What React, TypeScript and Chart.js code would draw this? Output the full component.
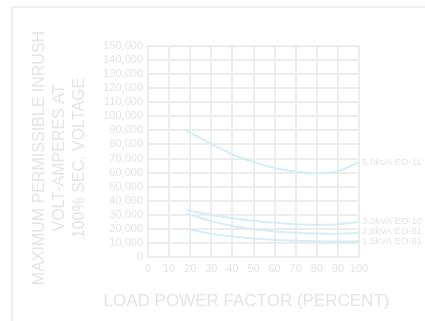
import React, { useEffect, useRef } from "react";
import { Chart, registerables } from "chart.js";

Chart.register(...registerables);

const xValues = [18, 30, 40, 50, 60, 70, 80, 90, 100];
const seriesNames = ["5.0kVA EO-11", "3.0kVA EO-10", "2.0kVA EO-91", "1.5kVA EO-81"];
const kva50 = [90000, 80500, 73000, 67500, 63300, 60700, 59600, 61000, 67500];
const kva30 = [33500, 29800, 27500, 25800, 24300, 23300, 22900, 23300, 25000];
const kva20 = [31000, 25500, 22000, 19700, 18200, 17200, 16700, 16600, 17000];
const kva15 = [20000, 16500, 14600, 13200, 12200, 11600, 11200, 11000, 11000];
const xTicks = [0, 10, 20, 30, 40, 50, 60, 70, 80, 90, 100];
const yTitleLines = ["MAXIMUM PERMISSIBLE INRUSH", "VOLT-AMPERES AT", "100% SEC. VOLTAGE"];
const xTitle = "LOAD POWER FACTOR (PERCENT)";

const TEXT = "#e4e4e4";
const GRID = "#ececec";
const CURVE = "#d6edf5";
const FONT = "'Liberation Sans', Arial, sans-serif";

export default function App() {
  const ref = useRef<HTMLCanvasElement | null>(null);

  useEffect(() => {
    const canvas = ref.current;
    if (!canvas) return;
    const allSeries = [kva50, kva30, kva20, kva15];

    const decor = {
      id: "decor",
      beforeDraw(chart: any) {
        const ctx = chart.ctx;
        ctx.save();
        ctx.fillStyle = "#ffffff";
        ctx.fillRect(0, 0, chart.width, chart.height);
        ctx.strokeStyle = "#f0f0f0";
        ctx.lineWidth = 2;
        ctx.strokeRect(12, 7, 430, 330);
        ctx.restore();
      },
      afterDraw(chart: any) {
        const ctx = chart.ctx;
        const xs = chart.scales.x;
        const ys = chart.scales.y;
        ctx.save();
        ctx.fillStyle = TEXT;
        ctx.font = `16px ${FONT}`;
        ctx.textAlign = "center";
        ctx.textBaseline = "middle";
        const cy = 158;
        [40, 60, 80].forEach((cx, i) => {
          ctx.save();
          ctx.translate(cx, cy);
          ctx.rotate(-Math.PI / 2);
          ctx.fillText(yTitleLines[i], 0, 0);
          ctx.restore();
        });
        ctx.font = `17px ${FONT}`;
        ctx.fillText(xTitle, (xs.left + xs.right) / 2 - 7, 301);
        ctx.font = `9.5px ${FONT}`;
        ctx.textAlign = "left";
        const px = xs.getPixelForValue(xValues[xValues.length - 1]) + 3;
        const ys0 = allSeries.map((s) => ys.getPixelForValue(s[s.length - 1]));
        for (let i = ys0.length - 2; i >= 0; i--) {
          if (ys0[i] > ys0[i + 1] - 10) ys0[i] = ys0[i + 1] - 10;
        }
        allSeries.forEach((s, i) => {
          ctx.fillText(seriesNames[i], px, ys0[i]);
        });
        ctx.restore();
      },
    };

    const chart = new Chart(canvas, {
      type: "line",
      data: {
        datasets: allSeries.map((s, i) => ({
          label: seriesNames[i],
          data: s.map((v, j) => ({ x: xValues[j], y: v })),
          borderColor: CURVE,
          borderWidth: 2,
          pointRadius: 0,
          fill: false,
          tension: 0.4,
        })),
      },
      options: {
        responsive: false,
        animation: false,
        layout: { padding: { left: 0, right: 66, top: 46, bottom: 0 } },
        plugins: { legend: { display: false }, tooltip: { enabled: false } },
        scales: {
          x: {
            type: "linear",
            min: 0,
            max: 100,
            afterBuildTicks: (axis: any) => {
              axis.ticks = xTicks.map((v) => ({ value: v }));
            },
            afterFit: (axis: any) => {
              axis.height = 64;
            },
            grid: { color: GRID, lineWidth: 2, drawTicks: false },
            border: { color: GRID, width: 2 },
            ticks: { color: TEXT, font: { family: FONT, size: 11 }, padding: 5, maxRotation: 0, autoSkip: false },
          },
          y: {
            type: "linear",
            min: 0,
            max: 150000,
            ticks: {
              stepSize: 10000,
              autoSkip: false,
              color: TEXT,
              font: { family: FONT, size: 11 },
              padding: 5,
              callback: (v: any) => Number(v).toLocaleString("en-US"),
            },
            afterFit: (axis: any) => {
              axis.width = 148;
            },
            grid: { color: GRID, lineWidth: 2, drawTicks: false },
            border: { color: GRID, width: 2 },
          },
        },
      },
      plugins: [decor],
    });
    return () => chart.destroy();
  }, []);

  return (
    <div style={{ position: "fixed", left: 0, top: 0, width: 425, height: 321, background: "#fff" }}>
      <canvas ref={ref} width={425} height={321} style={{ display: "block", width: 425, height: 321 }} />
    </div>
  );
}
